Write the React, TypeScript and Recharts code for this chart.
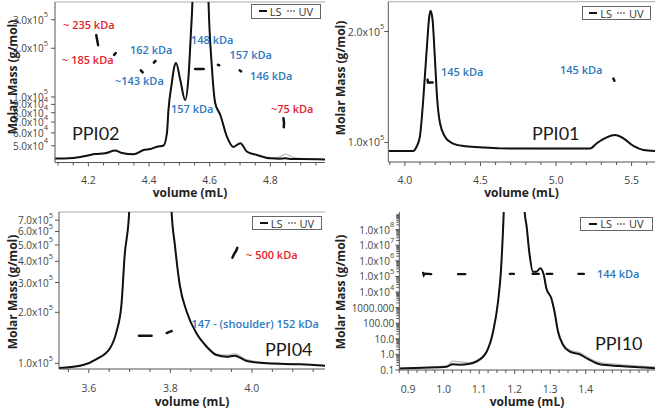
import React from "react";
import { LineChart, Line, XAxis, YAxis, ReferenceLine } from "recharts";

const FONT = "'Open Sans', 'Liberation Sans', Arial, sans-serif";
const BLUE = "#2e78be";
const RED = "#e3232b";
const AXIS = "#555";

// PPI02 (top left) - trace in % of plot height, molar mass in g/mol
const p02Vol = [4.09, 4.12, 4.15, 4.19, 4.22, 4.255, 4.288, 4.311, 4.349, 4.382, 4.404, 4.426, 4.448, 4.459, 4.464, 4.475, 4.483, 4.489, 4.503, 4.519, 4.53, 4.538, 4.543, 4.547, 4.57, 4.592, 4.596, 4.607, 4.618, 4.635, 4.657, 4.678, 4.701, 4.723, 4.756, 4.8, 4.83, 4.85, 4.87, 4.9, 4.98];
const p02LS = [2.5, 2.5, 2.8, 4.0, 5.3, 5.7, 7.4, 5.9, 5.1, 7.8, 8.4, 9.8, 10.6, 18.4, 32.7, 49.5, 59.5, 62.0, 51.4, 38.9, 53.3, 80.7, 100, 130, 250, 130, 100, 59.7, 37.1, 29.6, 15.9, 9.7, 12.0, 6.7, 4.7, 2.6, 2.4, 2.6, 2.2, 2.2, 1.9];
const p02UV = [2.5, 2.5, 2.8, 4.0, 5.3, 5.7, 7.4, 5.9, 5.1, 7.8, 8.4, 9.8, 10.6, 18.4, 32.7, 49.5, 59.5, 62.0, 51.4, 38.9, 53.3, 80.7, 100, 130, 250, 130, 100, 59.7, 37.1, 29.6, 15.9, 9.7, 12.0, 6.7, 4.7, 2.8, 3.4, 5.3, 3.6, 2.4, 2.0];
const p02MassVol = [4.226, 4.229, 4.232, 4.26, 4.285, 4.29, 4.33, 4.373, 4.379, 4.4, 4.416, 4.421, 4.5, 4.552, 4.58, 4.6, 4.627, 4.631, 4.66, 4.699, 4.703, 4.77, 4.843, 4.845, 4.844];
const p02Mass = [241000, 225000, 209000, null, 182000, 187000, null, 146000, 142000, null, 163000, 167000, null, 149000, 149000, null, 158000, 157000, null, 146000, 144000, null, 74000, 69000, 65000];
const p02XTicks = [4.2, 4.4, 4.6, 4.8];
const p02YTicks = [50000, 60000, 70000, 80000, 90000, 100000, 200000, 300000];
const p02YLabels = ["5.0x10^4", "6.0x10^4", "7.0x10^4", "8.0x10^4", "9.0x10^4", "1.0x10^5", "2.0x10^5", "3.0x10^5"];

// PPI01 (top right)
const p01Vol = [3.89, 4.055, 4.077, 4.099, 4.121, 4.144, 4.161, 4.17, 4.183, 4.199, 4.214, 4.232, 4.265, 4.309, 4.386, 4.497, 4.629, 4.9, 5.225, 5.27, 5.336, 5.39, 5.446, 5.512, 5.578, 5.655];
const p01LS = [6.9, 6.9, 9.5, 15.8, 38.7, 69.9, 90.6, 94.4, 88.6, 63.6, 38.7, 24.3, 15.8, 12.0, 10.0, 9.2, 8.5, 8.4, 8.4, 11.7, 15.4, 16.8, 14.8, 10.0, 7.5, 6.9];
const p01UV = [6.9, 6.9, 9.5, 15.8, 38.7, 69.9, 90.6, 94.4, 88.6, 63.6, 38.7, 24.3, 15.8, 12.0, 10.0, 9.2, 8.5, 8.4, 8.4, 11.8, 15.6, 17.0, 15.0, 10.2, 7.6, 6.9];
const p01MassVol = [4.15, 4.153, 4.183, 5.0, 5.38, 5.386];
const p01Mass = [148000, 145500, 145500, null, 149000, 147000];
const p01XTicks = [4.0, 4.5, 5.0, 5.5];
const p01YTicks = [100000, 200000];
const p01YLabels = ["1.0x10^5", "2.0x10^5"];

// PPI04 (bottom left)
const p04Vol = [3.527, 3.586, 3.62, 3.652, 3.668, 3.68, 3.688, 3.699, 3.705, 3.75, 3.797, 3.803, 3.811, 3.823, 3.84, 3.864, 3.889, 3.913, 3.938, 3.958, 3.987, 4.036, 4.118, 4.179];
const p04LS = [0.6, 2.5, 6.4, 13.2, 23.8, 40.8, 72.6, 100, 140, 400, 140, 100, 79, 53.5, 36.5, 22.7, 14.2, 8.9, 7.8, 8.5, 5.1, 3.6, 3.0, 2.1];
const p04UV = [0.6, 2.5, 6.4, 13.2, 23.8, 40.8, 72.6, 100, 140, 400, 140, 100, 79, 53.5, 36.5, 22.7, 14.5, 9.5, 8.8, 9.6, 6.0, 4.0, 3.2, 2.3];
const p04MassVol = [3.723, 3.754, 3.77, 3.791, 3.796, 3.803, 3.88, 3.952, 3.957, 3.961, 3.964];
const p04Mass = [145500, 145500, null, 151000, 153000, 155000, null, 420000, 445000, 460000, 480000];
const p04XTicks = [3.6, 3.8, 4.0];
const p04YTicks = [100000, 200000, 300000, 400000, 500000, 600000, 700000];
const p04YLabels = ["1.0x10^5", "2.0x10^5", "3.0x10^5", "4.0x10^5", "5.0x10^5", "6.0x10^5", "7.0x10^5"];

// PPI10 (bottom right)
const p10Vol = [0.875, 0.942, 1.008, 1.025, 1.045, 1.07, 1.092, 1.121, 1.139, 1.153, 1.161, 1.166, 1.169, 1.172, 1.2, 1.225, 1.228, 1.233, 1.242, 1.251, 1.261, 1.272, 1.282, 1.289, 1.303, 1.312, 1.322, 1.336, 1.355, 1.383, 1.406, 1.439, 1.495, 1.595];
const p10LS = [1.0, 1.5, 2.1, 3.6, 3.4, 3.8, 5.3, 11.6, 24.2, 43.2, 62.2, 83.4, 100, 130, 300, 130, 100, 91.8, 72.8, 62.2, 62.2, 64.4, 60.1, 51.7, 45.4, 36.9, 24.2, 15.8, 11.6, 9.9, 7.0, 3.6, 2.5, 1.1];
const p10UV = [1.0, 1.6, 2.6, 5.6, 5.2, 4.6, 6.0, 12.0, 24.5, 43.2, 62.2, 83.4, 100, 130, 300, 130, 100, 91.8, 72.8, 62.2, 62.2, 64.4, 60.1, 51.7, 45.4, 37.5, 25.0, 16.8, 12.6, 11.0, 8.0, 4.8, 3.4, 2.0];
const p10MassVol = [0.942, 0.944, 0.947, 0.956, 0.965, 1.0, 1.04, 1.061, 1.12, 1.186, 1.198, 1.22, 1.25, 1.268, 1.28, 1.29, 1.306, 1.34, 1.379, 1.395];
const p10Mass = [170000, 120000, 150000, 145000, 140000, null, 140000, 140000, null, 145000, 145000, null, 146000, 146000, null, 144000, 144000, null, 144000, 144000];
const p10XTicks = [0.9, 1.0, 1.1, 1.2, 1.3, 1.4];
const p10YTicks = [0.1, 1, 10, 100, 1000, 1e4, 1e5, 1e6, 1e7, 1e8];
const p10YLabels = ["0.1", "1.0", "10.0", "100.00", "1000.000", "1.0x10^4", "1.0x10^5", "1.0x10^6", "1.0x10^7", "1.0x10^8"];

type Note = { t: string; x: number; y: number; c: string };

const notes: Note[] = [
  { t: "~ 235 kDa", x: 63, y: 24.5, c: RED },
  { t: "~ 185 kDa", x: 62, y: 60, c: RED },
  { t: "162 kDa", x: 130, y: 49.5, c: BLUE },
  { t: "~143 kDa", x: 115, y: 81, c: BLUE },
  { t: "148 kDa", x: 191, y: 40, c: BLUE },
  { t: "157 kDa", x: 229.5, y: 54.5, c: BLUE },
  { t: "146 kDa", x: 250, y: 76, c: BLUE },
  { t: "157 kDa", x: 171, y: 109, c: BLUE },
  { t: "~75 kDa", x: 271, y: 108.5, c: RED },
  { t: "145 kDa", x: 441, y: 71.5, c: BLUE },
  { t: "145 kDa", x: 560, y: 70, c: BLUE },
  { t: "~ 500 kDa", x: 246, y: 254.5, c: RED },
  { t: "147 - (shoulder) 152 kDa", x: 191.5, y: 323.5, c: BLUE },
  { t: "144 kDa", x: 597, y: 274, c: BLUE },
];

const titles: Note[] = [
  { t: "PPI02", x: 72, y: 133, c: "#1a1a1a" },
  { t: "PPI01", x: 532, y: 133, c: "#1a1a1a" },
  { t: "PPI04", x: 265, y: 348.5, c: "#1a1a1a" },
  { t: "PPI10", x: 595, y: 343, c: "#1a1a1a" },
];

type Panel = {
  box: number[];
  plot: number[];
  xDomain: [number, number];
  xMajor: number[];
  xStep: number;
  xLabelDy: number;
  yDomain: [number, number];
  yTicks: number[];
  yLabels: string[];
  yMinor: boolean;
  yGap: number;
  yFont: number;
  vol: number[];
  ls: number[];
  uv: number[];
  massVol: number[];
  mass: (number | null)[];
  massWidth: number;
  topLine: boolean;
};

function steps(a: number, b: number, step: number) {
  const out: number[] = [];
  const start = Math.ceil(a / step - 1e-9);
  for (let k = start; k * step <= b + 1e-9; k++) out.push(Math.round(k * step * 10000) / 10000);
  return out;
}

function logMinors(lo: number, hi: number) {
  const out: number[] = [];
  for (let d = Math.floor(Math.log10(lo)); d <= Math.ceil(Math.log10(hi)); d++) {
    for (let k = 2; k <= 9; k++) {
      const v = k * Math.pow(10, d);
      if (v >= lo && v <= hi) out.push(v);
    }
  }
  return out;
}

function Chart({ p }: { p: Panel }) {
  const [bx, by, bw, bh] = p.box;
  const [x0, x1, y0, y1] = p.plot;
  const trace = p.vol.map((v, i) => ({ v, ls: p.ls[i], uv: p.uv[i] }));
  const mass = p.massVol.map((v, i) => ({ v, m: p.mass[i] }));
  const xTicks = steps(p.xDomain[0], p.xDomain[1], p.xStep);
  const yTicks = p.yMinor ? [...p.yTicks, ...logMinors(p.yDomain[0], p.yDomain[1])] : p.yTicks;

  const xTick = (props: any) => {
    const { x, y, payload } = props;
    const major = p.xMajor.some((m) => Math.abs(m - payload.value) < 1e-6);
    return (
      <g>
        <line x1={x} x2={x} y1={y} y2={y + (major ? 4 : 3)} stroke={AXIS} />
        {major && (
          <text x={x} y={y + p.xLabelDy} textAnchor="middle" dominantBaseline="central" fontSize={10.5} fontFamily={FONT} fill="#444">
            {payload.value.toFixed(1)}
          </text>
        )}
      </g>
    );
  };

  const yTick = (props: any) => {
    const { x, y, payload } = props;
    const i = p.yTicks.findIndex((t) => Math.abs(t / payload.value - 1) < 1e-6);
    const lab = i >= 0 ? p.yLabels[i] : "";
    const [base, exp] = lab.split("^");
    return (
      <g>
        <line x1={x - (lab ? 4 : 3)} x2={x} y1={y} y2={y} stroke={AXIS} />
        {lab && (
          <text x={x - p.yGap} y={y} textAnchor="end" dominantBaseline="central" fontSize={p.yFont} fontFamily={FONT} fill="#444">
            {base}
            {exp && (
              <tspan dy={-5.5} fontSize={7.5}>
                {exp}
              </tspan>
            )}
          </text>
        )}
      </g>
    );
  };

  return (
    <div style={{ position: "absolute", left: bx, top: by }}>
      <LineChart width={bw} height={bh} margin={{ top: y0 - by, right: bx + bw - x1, bottom: 0, left: 0 }}>
        <XAxis
          dataKey="v"
          type="number"
          domain={p.xDomain}
          allowDataOverflow
          ticks={xTicks}
          interval={0}
          tickSize={0}
          tickMargin={0}
          tickLine={false}
          axisLine={{ stroke: AXIS }}
          tick={xTick}
          height={by + bh - y1}
        />
        <YAxis
          yAxisId="mm"
          type="number"
          scale="log"
          domain={p.yDomain}
          allowDataOverflow
          ticks={yTicks}
          interval={0}
          tickSize={0}
          tickMargin={0}
          tickLine={false}
          axisLine={{ stroke: AXIS }}
          tick={yTick}
          width={x0 - bx}
        />
        <YAxis yAxisId="sig" orientation="right" hide type="number" domain={[0, 100]} allowDataOverflow />
        {p.topLine && <ReferenceLine yAxisId="mm" y={p.yDomain[1]} stroke="#aaa" ifOverflow="visible" />}
        <Line data={trace} dataKey="uv" yAxisId="sig" type="monotone" stroke="#b5b5b5" strokeWidth={1.2} dot={false} activeDot={false} isAnimationActive={false} />
        <Line data={trace} dataKey="ls" yAxisId="sig" type="monotone" stroke="#111" strokeWidth={2} dot={false} activeDot={false} isAnimationActive={false} />
        <Line data={mass} dataKey="m" yAxisId="mm" type="linear" stroke="#111" strokeWidth={p.massWidth} strokeLinecap="round" dot={false} activeDot={false} isAnimationActive={false} />
      </LineChart>
    </div>
  );
}

const panels: Panel[] = [
  {
    box: [0, 0, 330, 205], plot: [55, 325, 2, 162.5],
    xDomain: [4.09, 4.98], xMajor: p02XTicks, xStep: 0.05, xLabelDy: 17,
    yDomain: [39400, 386000], yTicks: p02YTicks, yLabels: p02YLabels, yMinor: false, yGap: 7, yFont: 10,
    vol: p02Vol, ls: p02LS, uv: p02UV, massVol: p02MassVol, mass: p02Mass, massWidth: 2.5, topLine: true,
  },
  {
    box: [330, 0, 328, 205], plot: [388.3, 655, 1.7, 162],
    xDomain: [3.89, 5.655], xMajor: p01XTicks, xStep: 0.1, xLabelDy: 17.5,
    yDomain: [88500, 241000], yTicks: p01YTicks, yLabels: p01YLabels, yMinor: false, yGap: 4, yFont: 10.5,
    vol: p01Vol, ls: p01LS, uv: p01UV, massVol: p01MassVol, mass: p01Mass, massWidth: 2.5, topLine: true,
  },
  {
    box: [0, 205, 330, 204], plot: [59, 325, 212, 369],
    xDomain: [3.527, 4.179], xMajor: p04XTicks, xStep: 0.05, xLabelDy: 18.5,
    yDomain: [92600, 782000], yTicks: p04YTicks, yLabels: p04YLabels, yMinor: false, yGap: 6, yFont: 10,
    vol: p04Vol, ls: p04LS, uv: p04UV, massVol: p04MassVol, mass: p04Mass, massWidth: 2.5, topLine: true,
  },
  {
    box: [330, 205, 328, 204], plot: [399.3, 655, 212, 370],
    xDomain: [0.875, 1.595], xMajor: p10XTicks, xStep: 0.025, xLabelDy: 19,
    yDomain: [0.1, 1.35e9], yTicks: p10YTicks, yLabels: p10YLabels, yMinor: true, yGap: 5, yFont: 10,
    vol: p10Vol, ls: p10LS, uv: p10UV, massVol: p10MassVol, mass: p10Mass, massWidth: 2.2, topLine: false,
  },
];

const legends = [
  [251, 3.5, 70, 15],
  [582, 6, 69, 14],
  [252, 216, 70, 14],
  [580, 217, 73, 13.5],
];

const yTitles = [
  [12, 77],
  [340, 78],
  [12, 292],
  [340, 292],
];
const xTitles = [
  [190, 193],
  [521.5, 192.5],
  [192, 402],
  [527, 401.5],
];

function LegendBox({ b }: { b: number[] }) {
  return (
    <div
      style={{
        position: "absolute", left: b[0], top: b[1], width: b[2], height: b[3],
        border: "1px solid #666", boxSizing: "border-box", background: "#fff",
        display: "flex", alignItems: "center", justifyContent: "center",
        fontFamily: FONT, fontSize: 11, color: "#333", lineHeight: 1,
      }}
    >
      <span style={{ width: 8, borderTop: "2px solid #111", marginRight: 3 }} />
      <span>LS</span>
      <span style={{ width: 8, borderTop: "2px dotted #999", margin: "0 4px 0 5px" }} />
      <span>UV</span>
    </div>
  );
}

export default function App() {
  return (
    <div style={{ position: "fixed", left: 0, top: 0, width: 658, height: 409, background: "#fff", overflow: "hidden" }}>
      {panels.map((p, i) => (
        <Chart key={i} p={p} />
      ))}
      {legends.map((b, i) => (
        <LegendBox key={i} b={b} />
      ))}
      {notes.map((n, i) => (
        <div
          key={i}
          style={{
            position: "absolute", left: n.x, top: n.y - 8, height: 16, lineHeight: "16px",
            fontFamily: FONT, fontSize: 11, fontWeight: 600, color: n.c, whiteSpace: "nowrap",
          }}
        >
          {n.t}
        </div>
      ))}
      {titles.map((n, i) => (
        <div
          key={i}
          style={{
            position: "absolute", left: n.x, top: n.y - 11, height: 22, lineHeight: "22px",
            fontFamily: "Lato, 'Open Sans', sans-serif", fontSize: 18, color: n.c, whiteSpace: "nowrap",
          }}
        >
          {n.t}
        </div>
      ))}
      {yTitles.map((c, i) => (
        <div
          key={i}
          style={{
            position: "absolute", left: c[0], top: c[1], transform: "translate(-50%, -50%) rotate(-90deg)",
            fontFamily: FONT, fontSize: 12, fontWeight: 700, color: "#222", whiteSpace: "nowrap",
          }}
        >
          Molar Mass (g/mol)
        </div>
      ))}
      {xTitles.map((c, i) => (
        <div
          key={i}
          style={{
            position: "absolute", left: c[0], top: c[1], transform: "translate(-50%, -50%)",
            fontFamily: FONT, fontSize: 12, fontWeight: 700, color: "#222", whiteSpace: "nowrap", lineHeight: "14px",
          }}
        >
          volume (mL)
        </div>
      ))}
    </div>
  );
}
